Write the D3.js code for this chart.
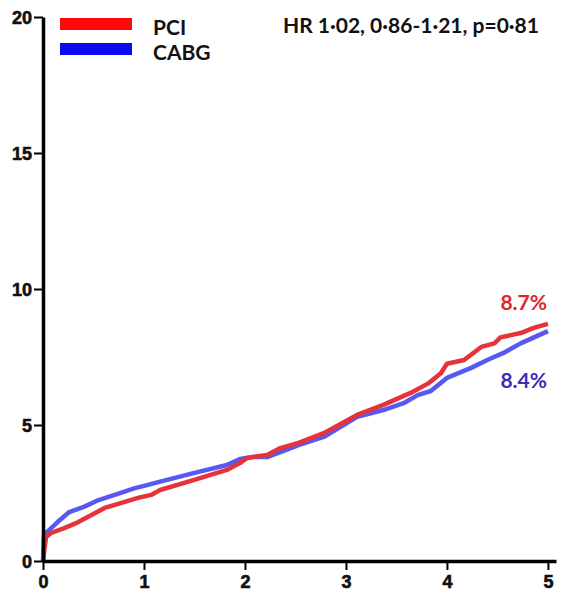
<!DOCTYPE html>
<html>
<head>
<meta charset="utf-8">
<script src="https://cdn.jsdelivr.net/npm/d3@7"></script>
<style>
  body { margin: 0; background: #fff; }
  svg { display: block; }
</style>
</head>
<body>
<div id="chart"></div>
<script>
// years of follow-up and cumulative event rate (%)
const pciYears = [0, 0.01, 0.03, 0.08, 0.21, 0.35, 0.48, 0.61, 0.77, 0.94, 1.07, 1.16, 1.49, 1.82, 1.95, 2.02, 2.22, 2.35, 2.53, 2.78, 3.11, 3.37, 3.64, 3.82, 3.94, 4.0, 4.17, 4.34, 4.47, 4.53, 4.73, 4.86, 5.0];
const pciRate  = [0, 0.3, 0.88, 1.03, 1.21, 1.43, 1.69, 1.95, 2.13, 2.32, 2.43, 2.61, 2.97, 3.35, 3.6, 3.79, 3.9, 4.15, 4.34, 4.7, 5.37, 5.74, 6.18, 6.54, 6.9, 7.25, 7.39, 7.87, 8.0, 8.22, 8.38, 8.57, 8.72];
const cabgYears = [0, 0.01, 0.15, 0.26, 0.41, 0.55, 0.71, 0.91, 1.04, 1.16, 1.49, 1.82, 1.95, 2.08, 2.22, 2.35, 2.53, 2.78, 3.11, 3.37, 3.57, 3.71, 3.84, 4.0, 4.24, 4.4, 4.56, 4.73, 5.0];
const cabgRate  = [0, 0.96, 1.45, 1.8, 2.0, 2.24, 2.43, 2.68, 2.8, 2.92, 3.23, 3.53, 3.75, 3.82, 3.82, 4.0, 4.26, 4.56, 5.3, 5.55, 5.8, 6.1, 6.25, 6.73, 7.1, 7.39, 7.65, 8.0, 8.45];

const xTicks = [0, 1, 2, 3, 4, 5];
const yTicks = [0, 5, 10, 15, 20];
const seriesNames = ['PCI', 'CABG'];
const endLabels = ['8.7%', '8.4%'];
const hrText = 'HR 1·02, 0·86-1·21, p=0·81';

const width = 575, height = 591;
const svg = d3.select('#chart').append('svg')
  .attr('width', width)
  .attr('height', height);

const x = d3.scaleLinear().domain([0, 5.08]).range([43, 556]);
const y = d3.scaleLinear().domain([0, 20]).range([561, 17]);

const tickFont = '"Liberation Sans", Arial, sans-serif';
const textFont = 'Lato, "Open Sans", sans-serif';

// curves
const line = d3.line().x(d => x(d[0])).y(d => y(d[1]));
const series = [
  { name: seriesNames[0], pts: d3.zip(pciYears, pciRate), color: '#e4333b', key: '#ff0a0a', label: endLabels[0], labelColor: '#e0262c' },
  { name: seriesNames[1], pts: d3.zip(cabgYears, cabgRate), color: '#5858f2', key: '#0a0aee', label: endLabels[1], labelColor: '#3a2db8' }
];

// draw CABG first so PCI sits on top
[series[1], series[0]].forEach(s => {
  svg.append('path')
    .attr('d', line(s.pts))
    .attr('fill', 'none')
    .attr('stroke', s.color)
    .attr('stroke-width', 4.5)
    .attr('stroke-linejoin', 'round');
});

// axes
const xAxis = svg.append('g')
  .attr('transform', `translate(0,${y(0)})`)
  .call(d3.axisBottom(x).tickValues(xTicks).tickFormat(d3.format('d'))
    .tickSize(9).tickSizeOuter(0).tickPadding(5));
const yAxis = svg.append('g')
  .attr('transform', `translate(${x(0)},0)`)
  .call(d3.axisLeft(y).tickValues(yTicks).tickFormat(d3.format('d'))
    .tickSize(9).tickSizeOuter(0).tickPadding(2));

[xAxis, yAxis].forEach(g => {
  g.attr('font-family', tickFont).attr('font-size', 18).attr('font-weight', 'bold');
  g.select('.domain').attr('stroke', '#000').attr('stroke-width', 3.5);
  g.selectAll('.tick line').attr('stroke', '#000').attr('stroke-width', 2);
  g.selectAll('.tick text')
    .attr('fill', '#111')
    .attr('stroke', '#111')
    .attr('stroke-width', 0.6);
});
yAxis.selectAll('.tick text').attr('dy', '0.36em');

// legend
series.forEach((s, i) => {
  svg.append('rect')
    .attr('x', 60).attr('y', 18 + i * 25)
    .attr('width', 72).attr('height', 12)
    .attr('fill', s.key);
  svg.append('text')
    .attr('x', 153).attr('y', 35 + i * 25)
    .attr('fill', '#111')
    .style('font-family', textFont)
    .style('font-weight', 'bold')
    .style('font-size', '21px')
    .text(s.name);
});

svg.append('text')
  .attr('x', 283).attr('y', 33)
  .attr('fill', '#111')
  .style('font-family', textFont)
  .style('font-weight', 'bold')
  .style('font-size', '21px')
  .text(hrText);

// end-point labels
svg.append('text')
  .attr('x', 547).attr('y', 310)
  .attr('text-anchor', 'end')
  .attr('fill', series[0].labelColor)
  .style('font-family', textFont)
  .style('font-weight', 'bold')
  .style('font-size', '21px')
  .text(series[0].label);
svg.append('text')
  .attr('x', 547).attr('y', 388)
  .attr('text-anchor', 'end')
  .attr('fill', series[1].labelColor)
  .style('font-family', textFont)
  .style('font-weight', 'bold')
  .style('font-size', '21px')
  .text(series[1].label);
</script>
</body>
</html>
